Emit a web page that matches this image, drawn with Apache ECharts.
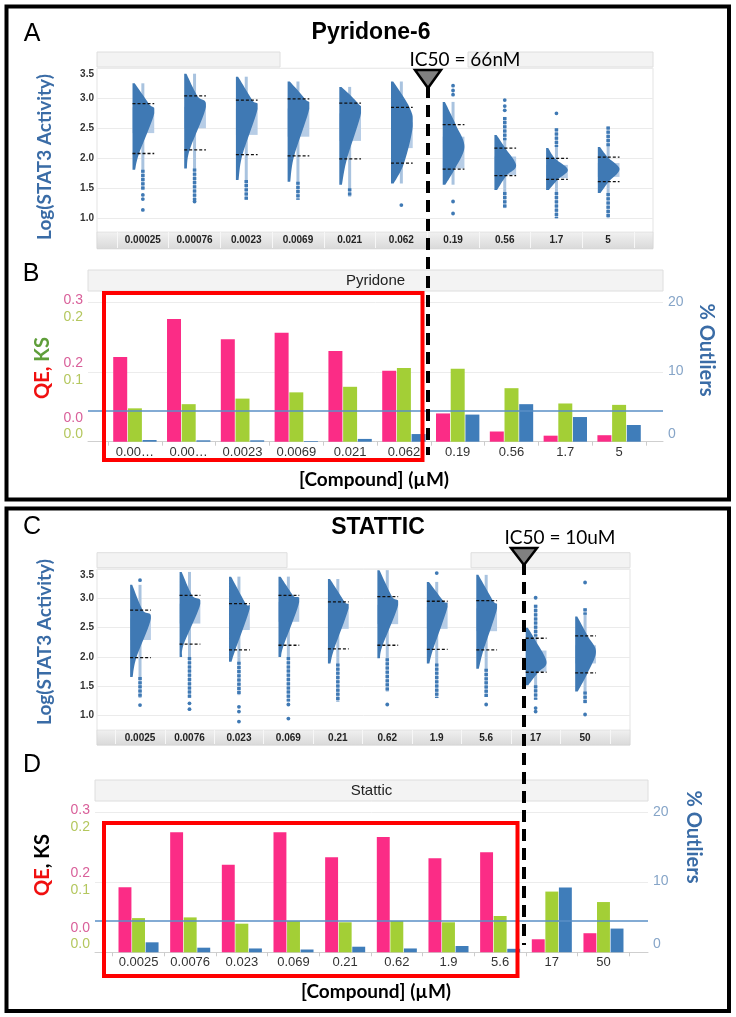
<!DOCTYPE html>
<html><head><meta charset="utf-8">
<script src="https://cdn.jsdelivr.net/npm/echarts@6/dist/echarts.min.js"></script>
<style>html,body{margin:0;padding:0;background:#fff}#c{width:736px;height:1017px}</style>
</head><body><div id="c"></div>
<script>
// ===== Panel A: Pyridone-6, Log(STAT3 Activity) distributions =====
const catsA   = ['0.00025','0.00076','0.0023','0.0069','0.021','0.062','0.19','0.56','1.7','5'];
const topA    = [3.25,3.41,3.36,3.28,3.19,3.28,2.94,2.39,2.17,2.19];
const peakA   = [2.75,2.86,2.83,2.83,2.75,2.53,2.19,1.88,1.81,1.82];
const bottomA = [1.81,1.83,1.64,1.61,1.56,1.58,1.56,1.47,1.47,1.42];
const q3A     = [2.91,3.04,2.97,2.99,2.92,2.85,2.56,2.17,2.00,2.02];
const q1A     = [2.08,2.14,2.06,2.04,1.99,1.92,1.82,1.71,1.65,1.61];
const boxHiA  = [2.85,2.86,2.83,2.83,2.75,2.60,2.36,2.03,1.89,1.92];
const boxLoA  = [2.42,2.50,2.39,2.36,2.29,2.17,1.83,1.72,1.67,1.69];
const wq3A    = [0.75,0.6,0.75,0.8,0.85,0.85,0.6,0.5,0.4,0.45];
const wq1A    = [0.3,0.25,0.3,0.3,0.35,0.6,0.55,0.55,0.55,0.5];
const runsA   = [[[1.47,1.81]],[[1.30,1.83]],[[1.31,1.64]],[[1.31,1.61]],[[1.36,1.50]],[],[],[[2.30,2.69],[1.17,1.44]],[[2.19,2.50],[1.00,1.44]],[[2.19,2.53],[1.00,1.42]]];
const dotsA   = [[1.39,1.32,1.14],[1.28],[],[],[],[1.22],[3.21,3.13,3.06,1.28,1.08],[2.97,2.87,2.80],[2.75],[]];

// ===== Panel B: Pyridone QE / KS / % Outliers =====
const catsB = ['0.00025','0.00076','0.0023','0.0069','0.021','0.062','0.19','0.56','1.7','5'];
const qeB   = [0.183,0.265,0.221,0.235,0.196,0.153,0.061,0.022,0.013,0.014];
const ksB   = [0.048,0.054,0.062,0.071,0.079,0.106,0.105,0.077,0.055,0.053];
const outB  = [0.24,0.2,0.2,0.1,0.4,1.1,3.9,5.4,3.55,2.4];

// ===== Panel C: STATTIC distributions =====
const catsC   = ['0.0025','0.0076','0.023','0.069','0.21','0.62','1.9','5.6','17','50'];
const topC    = [3.23,3.45,3.37,3.37,3.33,3.48,3.28,3.40,2.50,2.69];
const peakC   = [2.66,2.91,2.83,2.94,2.84,2.89,2.86,2.83,1.92,2.09];
const bottomC = [1.66,2.00,1.92,2.00,1.89,1.98,1.89,1.80,1.52,1.41];
const q3C     = [2.80,3.05,2.91,3.05,2.94,3.03,2.95,2.96,2.32,2.36];
const q1C     = [1.99,2.22,2.12,2.20,2.14,2.20,2.13,2.12,1.74,1.73];
const boxHiC  = [2.66,2.91,2.83,2.94,2.84,2.89,2.86,2.83,2.11,2.20];
const boxLoC  = [2.29,2.57,2.46,2.60,2.48,2.56,2.48,2.44,1.75,1.89];
const wq3C    = [0.6,0.6,0.8,0.7,0.8,0.7,0.8,0.8,0.4,0.6];
const wq1C    = [0.3,0.2,0.3,0.25,0.3,0.25,0.3,0.35,0.6,0.6];
const runsC   = [[[1.30,1.66]],[[1.30,2.00]],[[1.35,1.92]],[[1.24,2.00]],[[1.24,1.89]],[[1.41,1.98]],[[1.30,1.89]],[[1.32,1.80]],[[2.35,2.89],[1.27,1.52]],[[2.72,2.83],[1.21,1.41]]];
const dotsC   = [[3.31,1.18],[1.21,1.11],[1.15,1.07,0.90],[1.19,0.95],[],[1.19],[3.43],[1.19],[3.01,1.13,1.07],[3.27,1.02]];

// ===== Panel D: Stattic QE / KS / % Outliers =====
const catsD = ['0.0025','0.0076','0.023','0.069','0.21','0.62','1.9','5.6','17','50'];
const qeD   = [0.140,0.258,0.188,0.258,0.204,0.248,0.202,0.215,0.028,0.041];
const ksD   = [0.049,0.050,0.041,0.045,0.043,0.045,0.043,0.052,0.087,0.072];
const outD  = [1.43,0.66,0.55,0.4,0.8,0.55,0.9,0.5,9.3,3.4];

const refOutliers = 4.5;   // horizontal reference line (% outliers)
const yTicksLog = [0.5, 3.5, 0.5]; // min, max, interval

// ---------- styling helpers ----------
const ARIAL = '"Liberation Sans", Arial, sans-serif';
const CAL = 'Lato, "Open Sans", sans-serif';
const DARK = '#3f79b4', LIGHTBOX = '#b7cde6', WHISK = '#a9c3df';

function spline(pts, n) {
  const out = [];
  for (let k = 0; k < pts.length - 1; k++) {
    const p0 = pts[Math.max(k-1,0)], p1 = pts[k], p2 = pts[k+1], p3 = pts[Math.min(k+2, pts.length-1)];
    for (let s = 0; s < n; s++) {
      const t = s/n, t2 = t*t, t3 = t2*t;
      const f = (a,b,c,d) => 0.5*((2*b) + (-a+c)*t + (2*a-5*b+4*c-d)*t2 + (-a+3*b-3*c+d)*t3);
      out.push([f(p0[0],p1[0],p2[0],p3[0]), f(p0[1],p1[1],p2[1],p3[1])]);
    }
  }
  out.push(pts[pts.length-1]);
  return out;
}

function violinRender(D) {
  return function(params, api) {
    const i = params.dataIndex;
    const cx = api.coord([i, 1])[0];
    const band = api.size([1, 0])[0];
    const x0 = cx - 0.2*band, W = 0.42*band;
    const Y = v => api.coord([i, v])[1];
    const runs = D.runs[i], dots = D.dots[i];
    let lo = D.bottom[i], hi = D.top[i];
    runs.forEach(r => { lo = Math.min(lo, r[0]); hi = Math.max(hi, r[1]); });
    const ch = [];
    ch.push({type:'line', shape:{x1:cx, y1:Y(hi), x2:cx, y2:Y(lo)}, style:{stroke:WHISK, lineWidth:3}});
    ch.push({type:'rect', shape:{x:x0, y:Y(D.boxHi[i]), width:W, height:Y(D.boxLo[i])-Y(D.boxHi[i])}, style:{fill:LIGHTBOX}});
    const edge = [[0.1, D.top[i]], [D.wq3[i], D.q3[i]], [1, D.peak[i]], [D.wq1[i], D.q1[i]], [0.12, D.bottom[i]]]
      .map(p => [x0 + p[0]*W, Y(p[1])]);
    const curve = spline(edge, 10).map(p => [Math.min(Math.max(p[0], x0), x0 + W), p[1]]);
    const poly = [[x0, Y(D.top[i])]].concat(curve, [[x0, Y(D.bottom[i])]]);
    ch.push({type:'polygon', shape:{points:poly}, style:{fill:DARK}});
    [D.q3[i], D.q1[i]].forEach(v => ch.push({type:'line', shape:{x1:x0, y1:Y(v), x2:x0+W, y2:Y(v)},
      style:{stroke:'#111', lineWidth:1.3, lineDash:[3,2]}}));
    runs.forEach(r => ch.push({type:'line', shape:{x1:cx, y1:Y(r[1]), x2:cx, y2:Y(r[0])},
      style:{stroke:DARK, lineWidth:3.5, lineDash:[3,1.2]}}));
    dots.forEach(v => ch.push({type:'circle', shape:{cx:cx, cy:Y(v), r:1.9}, style:{fill:DARK}}));
    return {type:'group', children:ch};
  };
}

// rich keys for shifting individual tick labels (d<0 up, d>0 down)
const SHIFTS = [-24,-9,-8,-3,-1,0,6,8,14];
const key = d => 's' + (d < 0 ? 'm' + (-d) : 'p' + d);
function richShift(color, size, weight, family) {
  const r = {};
  SHIFTS.forEach(d => r[key(d)] = {color, fontSize:size, fontWeight:weight, fontFamily:family,
    padding: d < 0 ? [0,0,-2*d,0] : [2*d,0,0,0]});
  return r;
}

// ---------- layout (pixels) ----------
const G = {
  Abg: {left:97, top:68.3, width:556, height:180},
  Av:  {left:117, top:68.3, width:517, height:180},
  Bbg: {left:88, top:302.7, width:575, height:139},
  Bb:  {left:108, top:302.7, width:538, height:139},
  Cbg: {left:97, top:569, width:533, height:176},
  Cv:  {left:115.3, top:569, width:494.5, height:176},
  Dbg: {left:95, top:812.7, width:553, height:139.6},
  Db:  {left:112.7, top:812.7, width:516.6, height:139.6}
};
const grids = ['Abg','Av','Bbg','Bb','Cbg','Cv','Dbg','Db'].map(k => Object.assign({containLabel:false}, G[k]));
grids[0].show = true; grids[0].borderColor = '#e3e3e3';
grids[4].show = true; grids[4].borderColor = '#e3e3e3';

const hiddenVal = (gi, line) => ({type:'value', gridIndex:gi, min:0, max:1, show: !!line,
  axisLine:{show:!!line, lineStyle:{color:'#cfcfcf'}}, axisTick:{show:false}, axisLabel:{show:false}, splitLine:{show:false}});

function bandAxis(gi, cats, off, tickLen) {
  return {type:'category', gridIndex:gi, data:cats, position:'bottom', offset:off, z:5,
    axisLine:{show:false}, axisTick:{show:true, length:tickLen, lineStyle:{color:'#f7f7f7', width:1}},
    axisLabel:{margin:3, fontSize:10, fontWeight:'bold', color:'#222', fontFamily:ARIAL}};
}
function barAxis(gi, cats) {
  return {type:'category', gridIndex:gi, data:cats, position:'bottom',
    axisLine:{show:false}, axisTick:{show:true, length:4, lineStyle:{color:'#cccccc'}},
    axisLabel:{margin:4, fontSize:13, color:'#333', fontFamily:ARIAL, width:46, overflow:'truncate', ellipsis:'…', interval:0}};
}
function logAxis(gi, show) {
  return {type:'value', gridIndex:gi, min:yTicksLog[0], max:yTicksLog[1], interval:yTicksLog[2], show:show,
    axisLine:{show:false}, axisTick:{show:false},
    splitLine:{show:show, lineStyle:{color:'#ebebeb'}},
    axisLabel:{margin:3, fontSize:10, fontWeight:'bold', color:'#333', fontFamily:ARIAL,
      formatter: v => v === yTicksLog[0] ? '' : `{${key(v === yTicksLog[1] ? 6 : 0)}|${v.toFixed(1)}}`,
      rich: richShift('#333', 10, 'bold', ARIAL)}};
}
function qeAxis(gi, show) {
  return {type:'value', gridIndex:gi, position:'left', min:0, max:0.3, interval:0.15, show:show,
    axisLine:{show:false}, axisTick:{show:false}, splitLine:{show:false},
    axisLabel:{margin:5, fontSize:14, fontFamily:ARIAL,
      formatter: v => `{${key(v > 0.25 ? -3 : v > 0.1 ? -9 : -24)}|${(Math.round(v*10)/10).toFixed(1)}}`,
      rich: richShift('#d9609a', 14, 'normal', ARIAL)}};
}
function ksAxis(gi, show) {
  return {type:'value', gridIndex:gi, position:'left', min:0, max:0.2, interval:0.1, show:show,
    axisLine:{show:false}, axisTick:{show:false}, splitLine:{show:false},
    axisLabel:{margin:5, fontSize:14, fontFamily:ARIAL,
      formatter: v => `{${key(v > 0.15 ? 14 : v > 0.05 ? 8 : -8)}|${v.toFixed(1)}}`,
      rich: richShift('#b4c75e', 14, 'normal', ARIAL)}};
}
function outAxis(gi, show) {
  return {type:'value', gridIndex:gi, position:'right', min:0, max:20, interval:10, show:show,
    axisLine:{show:false}, axisTick:{show:false},
    splitLine:{show:show, lineStyle:{color:'#ececec'}},
    axisLabel:{margin:5, fontSize:14, fontFamily:ARIAL,
      formatter: v => `{${key(v === 0 ? -8 : -1)}|${v}}`,
      rich: richShift('#86a5c8', 14, 'normal', ARIAL)}};
}

const xAxes = [
  hiddenVal(0), bandAxis(1, catsA, -16.3, 16),
  hiddenVal(2, true), barAxis(3, catsB),
  hiddenVal(4), bandAxis(5, catsC, -15, 14),
  hiddenVal(6, true), barAxis(7, catsD)
];
const yAxes = [
  logAxis(0, true), logAxis(1, false),
  qeAxis(2, true), ksAxis(2, true), outAxis(2, true),
  qeAxis(3, false), ksAxis(3, false), outAxis(3, false),
  logAxis(4, true), logAxis(5, false),
  qeAxis(6, true), ksAxis(6, true), outAxis(6, true),
  qeAxis(7, false), ksAxis(7, false), outAxis(7, false)
];

const violA = {top:topA, peak:peakA, bottom:bottomA, q3:q3A, q1:q1A, boxHi:boxHiA, boxLo:boxLoA, wq3:wq3A, wq1:wq1A, runs:runsA, dots:dotsA};
const violC = {top:topC, peak:peakC, bottom:bottomC, q3:q3C, q1:q1C, boxHi:boxHiC, boxLo:boxLoC, wq3:wq3C, wq1:wq1C, runs:runsC, dots:dotsC};

function barSeries(xi, yi, data, color, w) {
  return {type:'bar', xAxisIndex:xi, yAxisIndex:yi, data:data, barWidth:w, barGap:'5%',
    itemStyle:{color:color}, silent:true, animation:false};
}
function refSeries(xi, yi) {
  return {type:'line', xAxisIndex:xi, yAxisIndex:yi, data:[], silent:true, animation:false,
    markLine:{symbol:'none', silent:true, animation:false, label:{show:false},
      lineStyle:{color:'#5a8fc6', width:1.5, type:'solid'}, data:[{yAxis:refOutliers}]}};
}

const PINK = '#fb2c86', GREEN = '#a3cf36', BLUE = '#3f7dba';
const series = [
  {type:'custom', xAxisIndex:1, yAxisIndex:1, renderItem:violinRender(violA),
    data:catsA.map((c,i) => [i, topA[i], bottomA[i]]), encode:{x:0, y:[1,2]}, silent:true, animation:false, z:3},
  {type:'custom', xAxisIndex:5, yAxisIndex:9, renderItem:violinRender(violC),
    data:catsC.map((c,i) => [i, topC[i], bottomC[i]]), encode:{x:0, y:[1,2]}, silent:true, animation:false, z:3},
  refSeries(2, 4),
  barSeries(3, 5, qeB, PINK, '26%'), barSeries(3, 6, ksB, GREEN, '26%'), barSeries(3, 7, outB, BLUE, '26%'),
  refSeries(6, 12),
  barSeries(7, 13, qeD, PINK, '25%'), barSeries(7, 14, ksD, GREEN, '25%'), barSeries(7, 15, outD, BLUE, '25%')
];

// ---------- annotation graphics ----------
const hdrStyle = {fill:'#f3f3f3', stroke:'#dedede', lineWidth:1};
const bandFill = {type:'linear', x:0, y:0, x2:0, y2:1, colorStops:[{offset:0,color:'#f1f1f1'},{offset:1,color:'#d9d9d9'}]};
function txt(x, y, text, font, fill, opts) {
  return Object.assign({type:'text', x:x, y:y, z:20, silent:true,
    style:Object.assign({text:text, fill:fill, textAlign:'center', textVerticalAlign:'middle'}, font)}, opts || {});
}
function rect(x, y, w, h, style, z) { return {type:'rect', z:z||1, silent:true, shape:{x,y,width:w,height:h}, style}; }

const graphics = [
  // panel frames
  rect(6.5, 6.5, 722.5, 493, {fill:'none', stroke:'#000', lineWidth:4}, 30),
  rect(6.5, 508.5, 722.5, 502.5, {fill:'none', stroke:'#000', lineWidth:4}, 30),
  // header strips
  rect(97, 52, 183, 15, hdrStyle), rect(468, 52, 185, 15, hdrStyle),
  rect(97, 552.7, 190, 15, hdrStyle), rect(471, 552.7, 159, 15, hdrStyle),
  rect(88, 270, 575, 21, hdrStyle), rect(95, 780, 553, 21, hdrStyle),
  // category label bands
  rect(97, 232, 556, 17, {fill:bandFill, stroke:'#d0d0d0', lineWidth:0.5}, 4),
  rect(97, 730, 533, 15, {fill:bandFill, stroke:'#d0d0d0', lineWidth:0.5}, 4),
  // panel letters & titles
  txt(32, 34, 'A', {fontSize:25, fontFamily:ARIAL}, '#000'),
  txt(31, 274, 'B', {fontSize:25, fontFamily:ARIAL}, '#000'),
  txt(32, 527, 'C', {fontSize:25, fontFamily:ARIAL}, '#000'),
  txt(32, 765, 'D', {fontSize:25, fontFamily:ARIAL}, '#000'),
  txt(371, 33, 'Pyridone-6', {fontSize:23, fontWeight:'bold', fontFamily:ARIAL}, '#000'),
  txt(378, 528, 'STATTIC', {fontSize:23, fontWeight:'bold', fontFamily:ARIAL}, '#000'),
  txt(375.5, 280.5, 'Pyridone', {fontSize:15, fontFamily:ARIAL}, '#222'),
  txt(371.5, 790.5, 'Stattic', {fontSize:15, fontFamily:ARIAL}, '#222'),
  // axis titles
  txt(45, 157, 'Log(STAT3 Activity)', {fontSize:19, fontWeight:'bold', fontFamily:CAL}, '#3a6ca6', {rotation:Math.PI/2}),
  txt(45, 642, 'Log(STAT3 Activity)', {fontSize:19, fontWeight:'bold', fontFamily:CAL}, '#3a6ca6', {rotation:Math.PI/2}),
  {type:'text', x:43, y:368, z:20, rotation:Math.PI/2, silent:true,
    style:{text:'{r|QE,} {g|KS}', textAlign:'center', textVerticalAlign:'middle', fontSize:20, fontWeight:'bold', fontFamily:CAL,
      rich:{r:{fill:'#f01010', fontSize:20, fontWeight:'bold', fontFamily:CAL}, g:{fill:'#5f9e3a', fontSize:20, fontWeight:'bold', fontFamily:CAL}}}},
  {type:'text', x:43, y:865, z:20, rotation:Math.PI/2, silent:true,
    style:{text:'{r|QE}{k|, KS}', textAlign:'center', textVerticalAlign:'middle', fontSize:20, fontWeight:'bold', fontFamily:CAL,
      rich:{r:{fill:'#f01010', fontSize:20, fontWeight:'bold', fontFamily:CAL}, k:{fill:'#000', fontSize:20, fontWeight:'bold', fontFamily:CAL}}}},
  txt(706, 350, '% Outliers', {fontSize:20, fontWeight:'bold', fontFamily:CAL}, '#3a6ca6', {rotation:-Math.PI/2}),
  txt(693, 837, '% Outliers', {fontSize:20, fontWeight:'bold', fontFamily:CAL}, '#3a6ca6', {rotation:-Math.PI/2}),
  txt(374, 480, '[Compound] (µM)', {fontSize:19, fontWeight:'bold', fontFamily:CAL}, '#000'),
  txt(376, 992, '[Compound] (µM)', {fontSize:19, fontWeight:'bold', fontFamily:CAL}, '#000'),
  // red highlight boxes
  rect(104, 293, 318.5, 167, {fill:'none', stroke:'#ff0000', lineWidth:4}, 25),
  rect(104, 823, 413.5, 153, {fill:'none', stroke:'#ff0000', lineWidth:4}, 25),
  // IC50 markers
  {type:'line', z:26, silent:true, shape:{x1:428, y1:86, x2:428, y2:455}, style:{stroke:'#000', lineWidth:4, lineDash:[12,7]}},
  {type:'polygon', z:27, silent:true, shape:{points:[[415,70],[441,70],[428,88]]}, style:{fill:'#808080', stroke:'#000', lineWidth:2.5}},
  {type:'line', z:26, silent:true, shape:{x1:524, y1:563, x2:524, y2:945}, style:{stroke:'#000', lineWidth:4, lineDash:[12,7]}},
  {type:'polygon', z:27, silent:true, shape:{points:[[511,548],[537,548],[524,565]]}, style:{fill:'#808080', stroke:'#000', lineWidth:2.5}},
  txt(465, 60, 'IC50 = 66nM', {fontSize:19, fontFamily:CAL}, '#000'),
  txt(560, 538, 'IC50 = 10uM', {fontSize:19, fontFamily:CAL}, '#000')
];

const chart = echarts.init(document.getElementById('c'), null, {renderer:'canvas'});
chart.setOption({
  animation:false,
  backgroundColor:'#fff',
  grid:grids, xAxis:xAxes, yAxis:yAxes, series:series,
  graphic:{elements:graphics}
});
</script></body></html>
